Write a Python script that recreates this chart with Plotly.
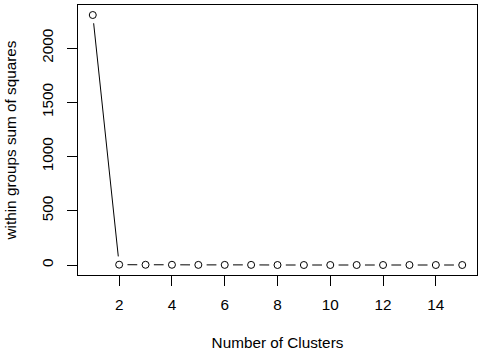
import plotly.graph_objects as go
import math

clusters = list(range(1, 16))
wss = [2305, 4, 3, 3, 2, 2, 2, 1, 1, 1, 1, 1, 1, 1, 1]
x_ticks = [2, 4, 6, 8, 10, 12, 14]
y_ticks = [0, 500, 1000, 1500, 2000]

W, H = 487, 356
ML, MR, MT, MB = 78, 10, 5, 81
PW, PH = W - ML - MR, H - MT - MB

# R-style 4% axis extension
xmin, xmax = min(clusters), max(clusters)
dx = (xmax - xmin) * 0.04
xr = [xmin - dx, xmax + dx]
ymin, ymax = min(wss), max(wss)
dy = (ymax - ymin) * 0.04
yr = [ymin - dy, ymax + dy]

sx = PW / (xr[1] - xr[0])
sy = PH / (yr[1] - yr[0])
gap = 8.3  # px gap around each point (type="b")

lx, ly = [], []
for i in range(len(clusters) - 1):
    x0, y0 = clusters[i], wss[i]
    x1, y1 = clusters[i + 1], wss[i + 1]
    px = (x1 - x0) * sx
    py = (y1 - y0) * sy
    L = math.hypot(px, py)
    if L <= 2 * gap:
        continue
    f = gap / L
    lx += [x0 + (x1 - x0) * f, x1 - (x1 - x0) * f, None]
    ly += [y0 + (y1 - y0) * f, y1 - (y1 - y0) * f, None]

fig = go.Figure()
fig.add_trace(go.Scatter(x=lx, y=ly, mode="lines",
                         line=dict(color="black", width=1),
                         hoverinfo="skip", showlegend=False))
fig.add_trace(go.Scatter(x=clusters, y=wss, mode="markers",
                         marker=dict(symbol="circle-open", size=7,
                                     color="black", line=dict(width=1)),
                         showlegend=False))

font = dict(family="Liberation Sans", size=15.3, color="black")
fig.update_layout(
    width=W, height=H,
    margin=dict(l=ML, r=MR, t=MT, b=MB),
    plot_bgcolor="white", paper_bgcolor="white",
    font=font,
    xaxis=dict(range=xr, tickvals=x_ticks, ticktext=[str(v) for v in x_ticks],
               ticks="outside", ticklen=10, tickwidth=1, tickcolor="black",
               showline=True, linecolor="black", linewidth=1, mirror=True,
               showgrid=False, zeroline=False, ticklabelstandoff=6,
               tickfont=font,
               title=dict(text="Number of Clusters", standoff=24, font=font)),
    yaxis=dict(range=yr, tickvals=y_ticks, ticktext=[str(v) for v in y_ticks],
               ticks="outside", ticklen=10, tickwidth=1, tickcolor="black",
               showline=True, linecolor="black", linewidth=1, mirror=True,
               showgrid=False, zeroline=False, tickangle=-90,
               ticklabelstandoff=8, tickfont=font,
               title=dict(text="within groups sum of squares", standoff=18, font=font)),
)
fig.write_html("out.html")
